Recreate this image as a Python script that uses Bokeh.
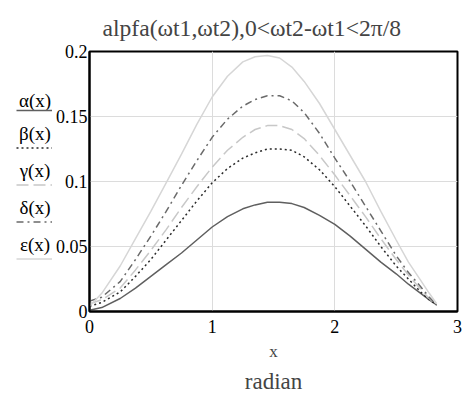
from bokeh.plotting import figure
from bokeh.layouts import row
from bokeh.models import Range1d, FixedTicker, Title
from bokeh.core.properties import value
from bokeh.embed import file_html
from bokeh.resources import INLINE

# ---- data ----
x = [0, 0.1, 0.25, 0.375, 0.5, 0.625, 0.75, 0.875, 1.0, 1.125, 1.25, 1.35, 1.45,
     1.55, 1.65, 1.75, 1.875, 2.0, 2.125, 2.25, 2.375, 2.5, 2.6, 2.7, 2.77, 2.83]
alpha = [.001, .003, .010, .018, .027, .036, .045, .055, .065, .073, .079, .082, .084,
         .084, .083, .080, .074, .067, .058, .048, .038, .029, .021, .014, .009, .005]
beta = [.004, .007, .015, .027, .040, .055, .070, .085, .099, .110, .118, .122, .125,
        .125, .124, .119, .109, .096, .081, .066, .050, .035, .025, .015, .009, .005]
gamma = [.006, .009, .018, .032, .047, .063, .080, .096, .111, .124, .134, .140, .143,
         .143, .140, .133, .120, .105, .089, .073, .056, .040, .028, .017, .010, .005]
delta = [.008, .011, .023, .040, .058, .077, .097, .116, .134, .148, .158, .163, .166,
         .166, .162, .153, .137, .118, .100, .081, .062, .043, .030, .019, .011, .005]
epsilon = [.004, .014, .035, .056, .077, .099, .121, .144, .165, .181, .192, .196, .197,
           .195, .188, .177, .160, .140, .120, .100, .077, .055, .038, .024, .014, .006]

series_labels = ["α(x)", "β(x)", "γ(x)", "δ(x)", "ε(x)"]
x_ticks = [0, 1, 2, 3]
x_tick_labels = ["0", "1", "2", "3"]
y_ticks = [0, 0.05, 0.1, 0.15, 0.2]
y_tick_labels = ["0", "0.05", "0.1", "0.15", "0.2"]
title_text = "alpfa(ωt1,ωt2),0<ωt2-ωt1<2π/8"

SERIF = "Liberation Serif"
colors = ["#5f5f5f", "#2a2a2a", "#c8c8c8", "#6a6a6a", "#d6d6d6"]
dashes = ["solid", "2 3", "12 5", "7 4 2 4", "solid"]
series = [alpha, beta, gamma, delta, epsilon]

LEG_W = 52
W, H = 464, 405
TOP, BOTTOM = 51, 94
FRAME_BOTTOM = H - BOTTOM

# ---- legend column (its frame spans the same rows as the plot frame) ----
leg = figure(width=LEG_W, height=H, output_backend="svg", toolbar_location=None,
             x_range=Range1d(0, LEG_W), y_range=Range1d(FRAME_BOTTOM, TOP),
             x_axis_type=None, y_axis_type=None, title_location=None,
             min_border_left=0, min_border_right=0,
             min_border_top=TOP, min_border_bottom=BOTTOM)
leg.outline_line_color = None
leg.grid.visible = False
line_y = [110, 147.5, 184.5, 221.5, 258.5]
label_gap = [10, 14.5, 14.5, 14.5, 14.5]
leg.text(x=[34.5] * 5, y=[ly - g for ly, g in zip(line_y, label_gap)], text=series_labels,
         text_align="center", text_baseline="alphabetic",
         text_font=value(SERIF), text_font_size="19px", text_color="black")
for ly, c, d in zip(line_y, colors, dashes):
    leg.segment(x0=[16], y0=[ly], x1=[52], y1=[ly], line_color=c, line_width=1.5, line_dash=d)

# ---- main plot ----
p = figure(width=W - LEG_W, height=H, output_backend="svg", toolbar_location=None,
           x_range=Range1d(0, 3), y_range=Range1d(0, 0.2),
           min_border_left=35, min_border_right=7,
           min_border_top=TOP, min_border_bottom=BOTTOM)

for ys, c, d in zip(series, colors, dashes):
    p.line(x=x, y=ys, line_color=c, line_width=1.5, line_dash=d)

p.title.text = title_text
p.title.text_font = SERIF
p.title.text_font_size = "23.6px"
p.title.text_font_style = "normal"
p.title.align = "left"
p.title.offset = 13
p.title.standoff = 22

p.xaxis.ticker = FixedTicker(ticks=x_ticks)
p.yaxis.ticker = FixedTicker(ticks=y_ticks)
p.xaxis.major_label_overrides = dict(zip(x_ticks, x_tick_labels))
p.yaxis.major_label_overrides = dict(zip(y_ticks, y_tick_labels))
for ax in (p.xaxis[0], p.yaxis[0]):
    ax.major_tick_out = 0
    ax.major_tick_in = 0
    ax.minor_tick_out = 0
    ax.minor_tick_in = 0
    ax.axis_line_color = "black"
    ax.axis_line_width = 2
    ax.major_label_text_font = SERIF
    ax.major_label_text_font_size = "18px"
    ax.major_label_text_color = "black"
p.xaxis.major_label_text_align = "left"
p.xaxis.major_label_standoff = 8
p.yaxis.major_label_standoff = 2
p.yaxis.major_label_text_baseline = "hanging"

p.xaxis.axis_label = "x"
p.xaxis.axis_label_text_font = SERIF
p.xaxis.axis_label_text_font_size = "17px"
p.xaxis.axis_label_text_font_style = "normal"
p.xaxis.axis_label_standoff = 6

p.add_layout(Title(text="radian", align="center", text_font=SERIF, text_font_size="23px",
                   text_font_style="normal", standoff=6), "below")

p.xgrid.grid_line_color = "#dcdcdc"
p.ygrid.grid_line_color = "#dcdcdc"
p.outline_line_color = "black"
p.outline_line_width = 2

layout = row(leg, p, spacing=0)
open("out.html", "w").write(file_html(layout, INLINE))
